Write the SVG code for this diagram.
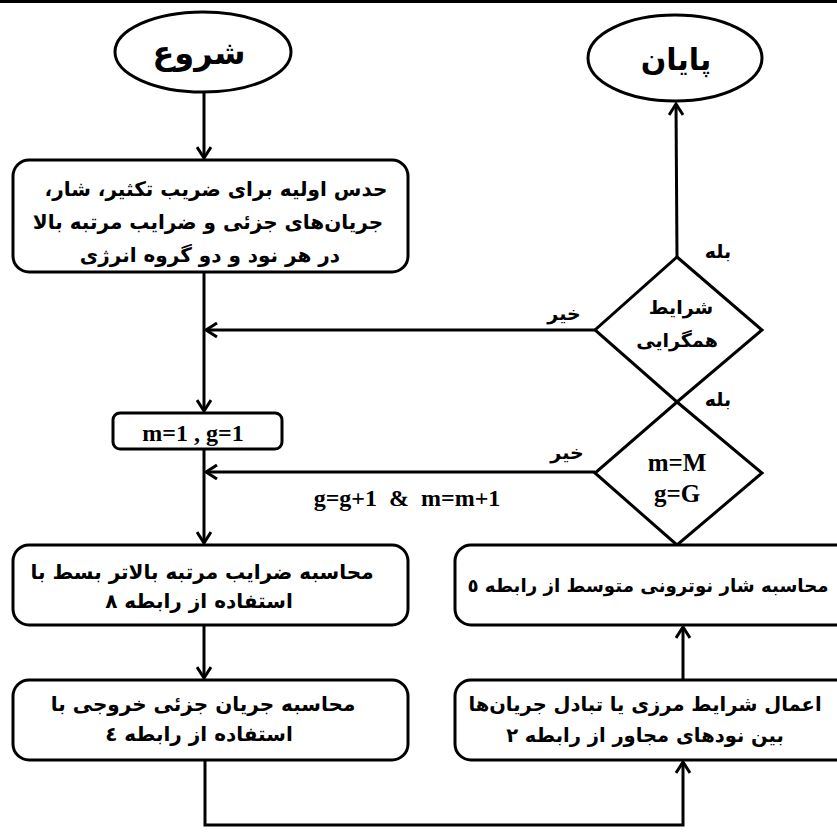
<svg xmlns="http://www.w3.org/2000/svg" width="837" height="837" viewBox="0 0 837 837">
<defs>
<marker id="arr" viewBox="-14 -8 16 16" refX="0" refY="0" markerWidth="16" markerHeight="16" markerUnits="userSpaceOnUse" orient="auto">
<path d="M-11,-7 L0,0 L-11,7" fill="none" stroke="#000" stroke-width="3" stroke-linejoin="miter"/>
</marker>
<style>
.sh{fill:#fff;stroke:#000;stroke-width:3}
.ln{fill:none;stroke:#000;stroke-width:3}
.fa{font-family:"DejaVu Sans",sans-serif;font-weight:bold;text-anchor:middle;direction:rtl;fill:#000}
.en{font-family:"Liberation Serif",serif;font-weight:bold;text-anchor:middle;fill:#000}
</style>
</defs>
<rect x="0" y="0" width="837" height="837" fill="#fff"/>
<line x1="0" y1="1.5" x2="837" y2="1.5" stroke="#000" stroke-width="3"/>
<g id="connectors">
<line class="ln" x1="204" y1="93" x2="204" y2="158" marker-end="url(#arr)"/>
<line class="ln" x1="204" y1="272" x2="204" y2="411" marker-end="url(#arr)"/>
<line class="ln" x1="595" y1="330" x2="206" y2="330" marker-end="url(#arr)"/>
<line class="ln" x1="595" y1="472" x2="206" y2="472" marker-end="url(#arr)"/>
<line class="ln" x1="204" y1="449" x2="204" y2="543" marker-end="url(#arr)"/>
<line class="ln" x1="204" y1="625" x2="204" y2="678" marker-end="url(#arr)"/>
<polyline class="ln" points="205,760 205,825 683,825 683,762" marker-end="url(#arr)"/>
<line class="ln" x1="683" y1="680" x2="683" y2="627" marker-end="url(#arr)"/>
<line class="ln" x1="677" y1="257" x2="676" y2="104" marker-end="url(#arr)"/>
<text class="fa" x="718" y="258" font-size="19">بله</text>
<text class="fa" x="564" y="320" font-size="19">خیر</text>
<text class="fa" x="718" y="406" font-size="19">بله</text>
<text class="fa" x="567" y="459" font-size="19">خیر</text>
<text class="en" x="407" y="506" font-size="24" xml:space="preserve">g=g+1  &amp;  m=m+1</text>
</g>
<g id="start">
<ellipse class="sh" cx="203" cy="52" rx="88" ry="40"/>
<text class="fa" x="199" y="64" font-size="32">شروع</text>
</g>
<g id="end">
<ellipse class="sh" cx="675" cy="58" rx="87" ry="43"/>
<text class="fa" x="676" y="70" font-size="30">پایان</text>
</g>
<g id="init">
<rect class="sh" x="13" y="160" width="395" height="112" rx="16"/>
<text class="fa" x="216" y="196" font-size="20">حدس اولیه برای ضریب تکثیر، شار،</text>
<text class="fa" x="208" y="229" font-size="20">جریان‌های جزئی و ضرایب مرتبه بالا</text>
<text class="fa" x="210" y="262" font-size="20">در هر نود و دو گروه انرژی</text>
</g>
<g id="mg">
<rect class="sh" x="113" y="413" width="169" height="36" rx="7"/>
<text class="en" x="193" y="441" font-size="24" xml:space="preserve">m=1 , g=1</text>
</g>
<g id="conv">
<polygon class="sh" points="677,257 762,330 677,402 595,330"/>
<text class="fa" x="681" y="314" font-size="19">شرایط</text>
<text class="fa" x="677" y="347" font-size="19">همگرایی</text>
</g>
<g id="check">
<polygon class="sh" points="677,402 762,473 677,545 595,473"/>
<text class="en" x="677" y="471" font-size="25">m=M</text>
<text class="en" x="677" y="502" font-size="25">g=G</text>
</g>
<g id="coef">
<rect class="sh" x="13" y="545" width="395" height="80" rx="16"/>
<text class="fa" x="202" y="579" font-size="20">محاسبه ضرایب مرتبه بالاتر بسط با</text>
<text class="fa" x="199" y="608" font-size="20">استفاده از رابطه ۸</text>
</g>
<g id="current">
<rect class="sh" x="13" y="680" width="395" height="80" rx="16"/>
<text class="fa" x="203" y="711" font-size="20">محاسبه جریان جزئی خروجی با</text>
<text class="fa" x="199" y="741" font-size="20">استفاده از رابطه ٤</text>
</g>
<g id="flux">
<rect class="sh" x="455" y="545" width="420" height="80" rx="16"/>
<text class="fa" x="648" y="592" font-size="18.2">محاسبه شار نوترونی متوسط از رابطه ٥</text>
</g>
<g id="boundary">
<rect class="sh" x="455" y="680" width="420" height="80" rx="16"/>
<text class="fa" x="645" y="711" font-size="19.5">اعمال شرایط مرزی یا تبادل جریان‌ها</text>
<text class="fa" x="645" y="742" font-size="19.5">بین نودهای مجاور از رابطه ۲</text>
</g>
</svg>
